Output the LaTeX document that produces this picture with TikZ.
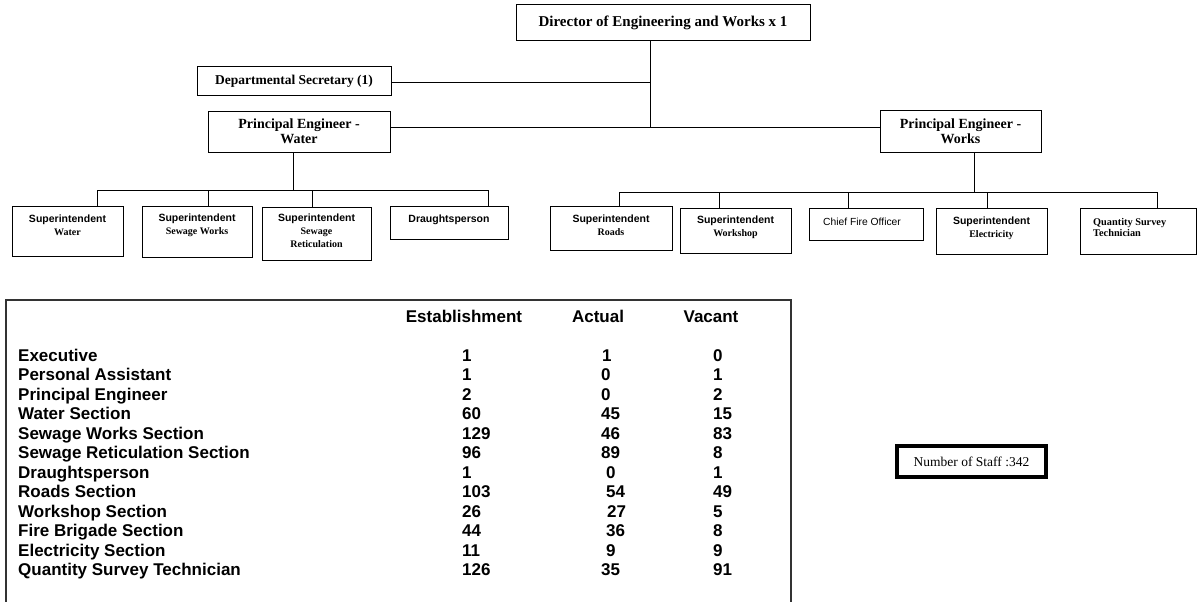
\documentclass[tikz,border=0pt]{standalone}
\usepackage{fontspec}
\setmainfont{Liberation Serif}
\newfontfamily\arialfont{Liberation Sans}
\newcommand{\supline}{\arialfont\bfseries\fontsize{10.5}{13}\selectfont}
\newcommand{\subline}{\rmfamily\bfseries\fontsize{10}{13}\selectfont}
\begin{document}
\begin{tikzpicture}[x=1pt,y=-1pt,
  box/.style={draw=black, line width=1pt, inner sep=0pt, outer sep=0pt, anchor=north west},
  conn/.style={draw=black, line width=0.9pt},
  headtx/.style={font=\bfseries\fontsize{14}{15}\selectfont, align=center},
  subtx/.style={anchor=north, align=center, inner sep=0pt, font=\fontsize{10}{13}\selectfont},
  tabtx/.style={anchor=base west, inner sep=0pt, font=\arialfont\bfseries\fontsize{17}{19}\selectfont},
  tabhd/.style={anchor=base, inner sep=0pt, font=\arialfont\bfseries\fontsize{17}{19}\selectfont}]
\useasboundingbox (0,0) rectangle (1197,602);

% ---- top of the chart ----
\node[box, minimum width=294, minimum height=36, font=\bfseries\fontsize{15}{17}\selectfont] (dir) at (516,5)
  {Director of Engineering and Works x 1};
\node[box, minimum width=194, minimum height=28, font=\bfseries\fontsize{13.5}{16}\selectfont] (sec) at (197,67)
  {Departmental Secretary (1)};
\node[box, minimum width=182, minimum height=41, headtx] (pew) at (208,111)
  {Principal Engineer -\\Water};
\node[box, minimum width=161, minimum height=42, headtx] (pek) at (880,110)
  {Principal Engineer -\\Works};

\coordinate (secj) at (650,82);
\coordinate (hub) at (650,127);
\draw[conn] (dir.south -| hub) -- (hub);
\draw[conn] (sec.east |- secj) -- (secj);
\draw[conn] (pew.east |- hub) -- (pek.west |- hub);

% ---- water branch ----
\node[box, minimum width=111, minimum height=50] (sw) at (12,206) {};
\node[box, minimum width=110, minimum height=51] (ssw) at (142,206) {};
\node[box, minimum width=109, minimum height=53] (ssr) at (262,207) {};
\node[box, minimum width=118, minimum height=33] (dra) at (390,206) {};

\node[subtx] (swt) at ([yshift=-9pt]sw.north) {{\supline Superintendent}\\{\subline Water}};
\node[subtx] (sswt) at ([yshift=-8pt]ssw.north) {{\supline Superintendent}\\{\subline Sewage Works}};
\node[subtx] (ssrt) at ([yshift=-7pt]ssr.north) {{\supline Superintendent}\\{\subline Sewage}\\{\subline Reticulation}};
\node[subtx] (drat) at ([yshift=-9pt]dra.north) {{\supline Draughtsperson}};

\coordinate (wbus) at (293,190);
\coordinate (w1) at (97,190);
\coordinate (w2) at (208,190);
\coordinate (w3) at (312,190);
\coordinate (w4) at (488,190);
\draw[conn] (pew.south -| wbus) -- (wbus);
\draw[conn] (w1) -- (w4);
\draw[conn] (w1) -- (w1 |- sw.north);
\draw[conn] (w2) -- (w2 |- ssw.north);
\draw[conn] (w3) -- (w3 |- ssr.north);
\draw[conn] (w4) -- (w4 |- dra.north);

% ---- works branch ----
\node[box, minimum width=122, minimum height=44] (sro) at (550,206) {};
\node[box, minimum width=111, minimum height=45] (swk) at (680,208) {};
\node[box, minimum width=114, minimum height=32] (cfo) at (809,208) {};
\node[box, minimum width=111, minimum height=46] (sel) at (936,208) {};
\node[box, minimum width=116, minimum height=46] (qst) at (1080,208) {};

\node[subtx] (srot) at ([yshift=-9pt]sro.north) {{\supline Superintendent}\\{\subline Roads}};
\node[subtx] (swkt) at ([yshift=-8pt]swk.north) {{\supline Superintendent}\\{\subline Workshop}};
\node[subtx, anchor=north west] (cfot) at ([xshift=14pt,yshift=-10pt]cfo.north west) {{\arialfont\fontsize{10.3}{13}\selectfont Chief Fire Officer}};
\node[subtx] (selt) at ([yshift=-9pt]sel.north) {{\supline Superintendent}\\{\subline Electricity}};
\node[subtx, anchor=north west, align=left, font=\bfseries\fontsize{10.3}{11.5}\selectfont] (qstt) at ([xshift=13pt,yshift=-10pt]qst.north west)
  {Quantity Survey\\Technician};

\coordinate (kbus) at (974,192);
\coordinate (k1) at (619,192);
\coordinate (k2) at (719,192);
\coordinate (k3) at (848,192);
\coordinate (k4) at (987,192);
\coordinate (k5) at (1157,192);
\draw[conn] (pek.south -| kbus) -- (kbus);
\draw[conn] (k1) -- (k5);
\draw[conn] (k1) -- (k1 |- sro.north);
\draw[conn] (k2) -- (k2 |- swk.north);
\draw[conn] (k3) -- (k3 |- cfo.north);
\draw[conn] (k4) -- (k4 |- sel.north);
\draw[conn] (k5) -- (k5 |- qst.north);

% ---- staffing table ----
\draw[line width=1.5pt, black!80] (6,603) -- (6,300) -- (791,300) -- (791,603);
\node[tabhd] (hest) at (464,322) {Establishment};
\node[tabhd] (hact) at (598,322) {Actual};
\node[tabhd] (hvac) at (711,322) {Vacant};

\foreach [count=\i] \lab/\est/\act/\ax/\vac in {
  Executive/1/1/602/0,
  Personal Assistant/1/0/601/1,
  Principal Engineer/2/0/601/2,
  Water Section/60/45/601/15,
  Sewage Works Section/129/46/601/83,
  Sewage Reticulation Section/96/89/601/8,
  Draughtsperson/1/0/606/1,
  Roads Section/103/54/606/49,
  Workshop Section/26/27/607/5,
  Fire Brigade Section/44/36/606/8,
  Electricity Section/11/9/606/9,
  Quantity Survey Technician/126/35/601/91}
{
  \pgfmathsetmacro{\yb}{361+(\i-1)*19.5}
  \node[tabtx] (lab\i) at (18,\yb) {\lab};
  \node[tabtx] (est\i) at (462,\yb) {\est};
  \node[tabtx] (act\i) at (\ax,\yb) {\act};
  \node[tabtx] (vac\i) at (713,\yb) {\vac};
}

% ---- staff total ----
\node[box, line width=4pt, minimum width=149, minimum height=31,
      font=\fontsize{13.5}{16}\selectfont] (staff) at (897,446) {Number of Staff :342};
\end{tikzpicture}
\end{document}
